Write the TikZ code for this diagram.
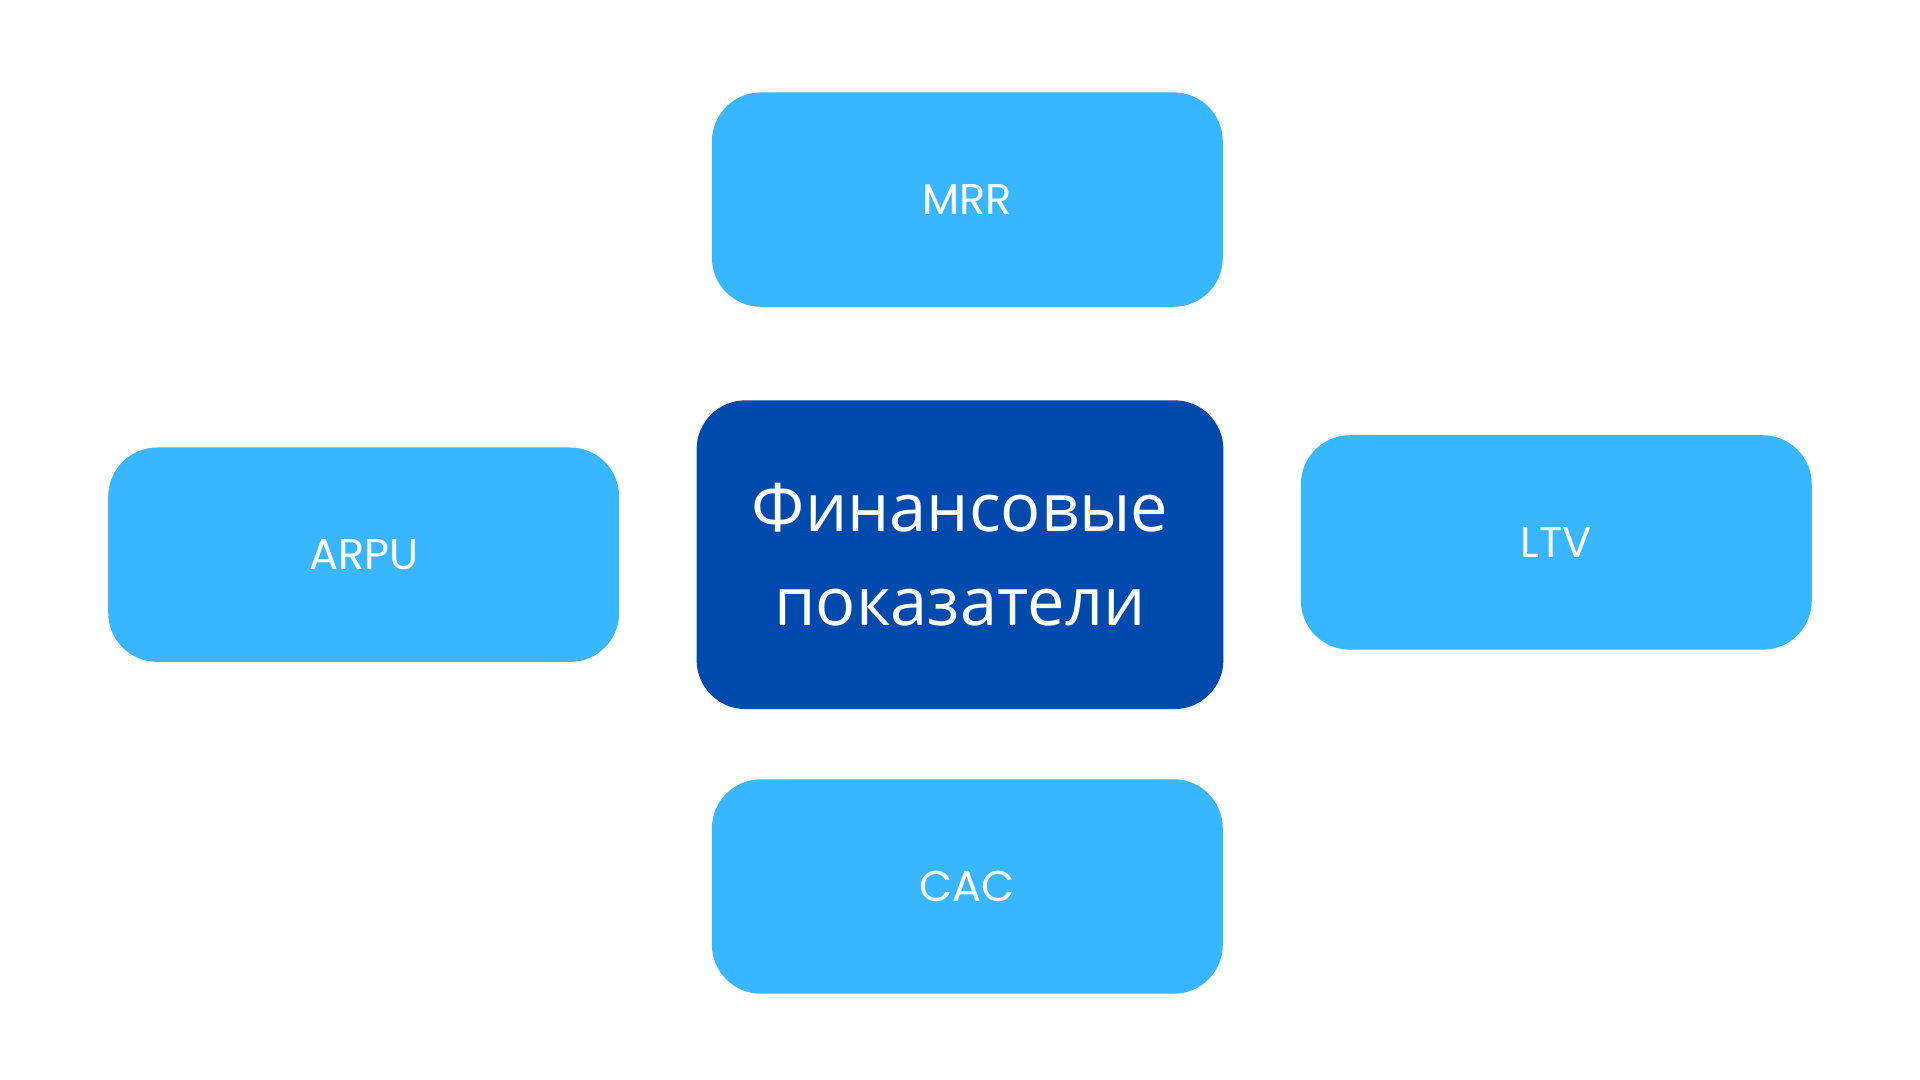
\documentclass[tikz,border=0pt]{standalone}
\usepackage{fontspec}
\setmainfont{Open Sans}
\newfontfamily\thinfont{Poppins}
\definecolor{lightblue}{HTML}{38B6FF}
\definecolor{darkblue}{HTML}{004AAD}
\tikzset{
  metric/.style={fill=lightblue, rounded corners=0.4cm, minimum width=4.17cm, minimum height=1.75cm, text=white, font=\thinfont\fontsize{10}{12}\selectfont},
  hub/.style={fill=darkblue, rounded corners=0.4cm, minimum width=4.3cm, minimum height=2.52cm, text=white, align=center, font=\fontsize{15.5}{22}\selectfont}
}
\begin{document}
\begin{tikzpicture}[x=0.01cm, y=-0.01cm]
\useasboundingbox (0, 0) rectangle (1568, 882);
\node[hub] (fin) at (784, 453) {Финансовые\\показатели};
\node[metric] (mrr) at (790, 163) {MRR};
\node[metric] (arpu) at (297, 453) {ARPU};
\node[metric] (ltv) at (1271, 443) {LTV};
\node[metric] (cac) at (790, 724) {CAC};
\end{tikzpicture}
\end{document}
